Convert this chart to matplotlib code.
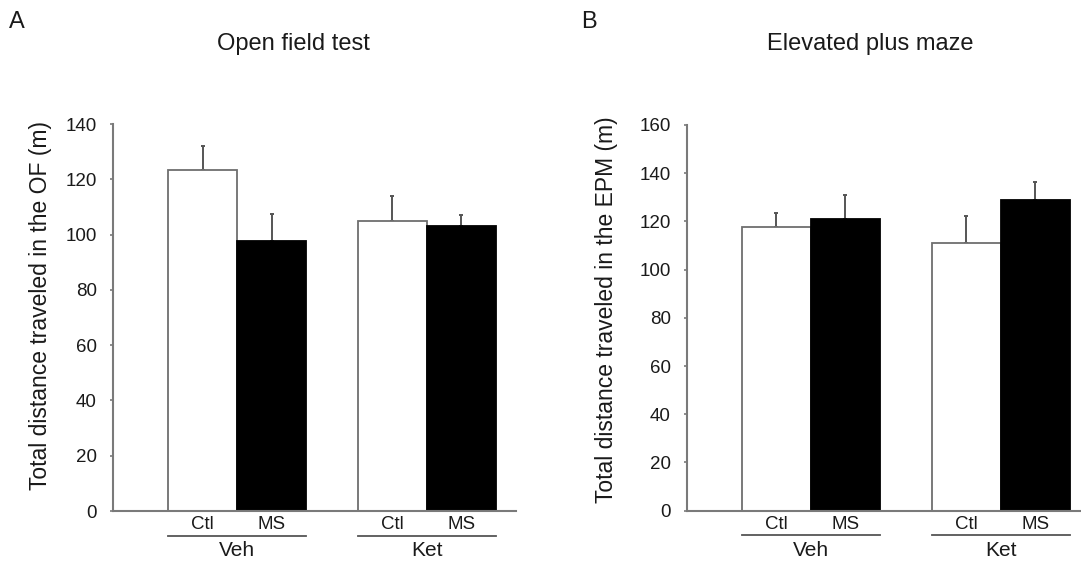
import matplotlib
matplotlib.use("Agg")
import matplotlib.pyplot as plt
import matplotlib.transforms as mtransforms

plt.rcParams['font.family'] = ['Liberation Sans', 'DejaVu Sans']

# Data
groups = ["Veh", "Ket"]
conditions = ["Ctl", "MS"]
of_means = [123.4, 97.8, 104.9, 103.2]
of_sem = [8.6, 9.8, 9.1, 3.9]
epm_means = [117.6, 121.0, 111.0, 129.0]
epm_sem = [5.8, 10.0, 11.3, 7.4]
of_yticks = [0, 20, 40, 60, 80, 100, 120, 140]
epm_yticks = [0, 20, 40, 60, 80, 100, 120, 140, 160]

positions = [1.3, 2.3, 4.05, 5.05]
colors = ["white", "black", "white", "black"]
edgecolors = ["#6e6e6e", "black", "#6e6e6e", "black"]

fig = plt.figure(figsize=(10.81, 5.62), dpi=100)
axA = fig.add_axes([0.1045, 0.0907, 0.3728, 0.6886])
axB = fig.add_axes([0.6352, 0.0913, 0.3728, 0.6863])

spine_col = "#7a7a7a"

def draw(ax, means, sems, yticks, ylabel, label_x, label_y):
    ax.bar(positions, means, width=1.0, color=colors, edgecolor=edgecolors,
           linewidth=1.3, zorder=2)
    ax.errorbar(positions, means, yerr=[[0]*len(sems), sems], fmt='none',
                ecolor="#555555", elinewidth=1.4, capsize=1.6, capthick=1.4,
                zorder=1)
    ax.set_xlim(0, 5.84)
    ax.set_ylim(0, yticks[-1])
    ax.set_yticks(yticks)
    ax.set_xticks([])
    for s in ["top", "right"]:
        ax.spines[s].set_visible(False)
    for s in ["left", "bottom"]:
        ax.spines[s].set_color(spine_col)
        ax.spines[s].set_linewidth(1.5)
    ax.tick_params(axis='y', length=2.5, width=1.2, color=spine_col,
                   labelsize=13.5, pad=9, labelcolor="#1a1a1a")
    ax.set_ylabel(ylabel, fontsize=16.5, color="#1a1a1a")
    ax.yaxis.set_label_coords(label_x, label_y)
    trans = mtransforms.blended_transform_factory(ax.transData, ax.transAxes)
    for gi, g in enumerate(groups):
        p0 = positions[2*gi]
        p1 = positions[2*gi + 1]
        for ci, c in enumerate(conditions):
            ax.text(positions[2*gi + ci], -0.036, c, transform=trans,
                    ha='center', va='center', fontsize=13.5, color="#1a1a1a")
        ax.plot([p0 - 0.5, p1 + 0.5], [-0.064, -0.064], transform=trans,
                color="#555555", linewidth=1.3, clip_on=False)
        ax.text((p0 + p1) / 2, -0.103, g, transform=trans, ha='center',
                va='center', fontsize=15, color="#1a1a1a")

draw(axA, of_means, of_sem, of_yticks,
     "Total distance traveled in the OF (m)", -0.151, 0.53)
draw(axB, epm_means, epm_sem, epm_yticks,
     "Total distance traveled in the EPM (m)", -0.170, 0.52)

fig.text(293.5/1081, 1 - 44/562, "Open field test", ha='center', va='center',
         fontsize=17, color="#1a1a1a")
fig.text(870/1081, 1 - 44/562, "Elevated plus maze", ha='center', va='center',
         fontsize=17, color="#1a1a1a")
fig.text(9/1081, 1 - 22/562, "A", ha='left', va='center', fontsize=17,
         color="#1a1a1a")
fig.text(581/1081, 1 - 22/562, "B", ha='left', va='center', fontsize=17,
         color="#1a1a1a")

fig.savefig("out.png", dpi=100)
